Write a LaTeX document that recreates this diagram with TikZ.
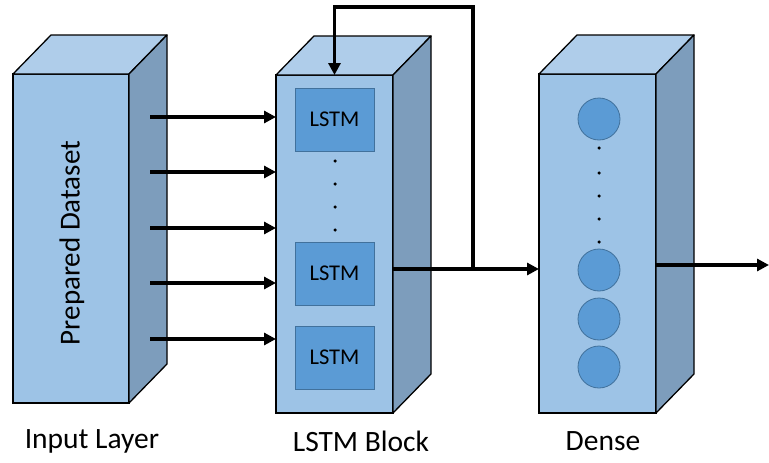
\documentclass[tikz,border=0pt]{standalone}
\usepackage{fontspec}
\setmainfont{Carlito}
\usetikzlibrary{arrows.meta,calc}
\definecolor{frontc}{HTML}{9DC3E6}
\definecolor{topc}{HTML}{AFCDEA}
\definecolor{sidec}{HTML}{7D9DBC}
\definecolor{innerc}{HTML}{5B9BD5}
\definecolor{innerb}{HTML}{41719C}
\tikzset{
  front/.style={draw=black, fill=frontc, line width=1.3pt, inner sep=0, outer sep=0},
  topface/.style={draw=black, fill=topc, line width=1.3pt, line join=round},
  sideface/.style={draw=black, fill=sidec, line width=1.3pt, line join=round},
  cell/.style={draw=innerb, fill=innerc, line width=0.8pt, minimum width=79pt, minimum height=63pt, inner sep=0, font=\fontsize{22.5}{24}\selectfont},
  neuron/.style={circle, draw=innerb, fill=innerc, line width=0.8pt, minimum size=42pt, inner sep=0},
  dotc/.style={circle, fill=black, minimum size=3.5pt, inner sep=0},
  arr/.style={line width=3.6pt, -{Triangle[length=12pt,width=12pt]}},
  lbl/.style={font=\fontsize{29.5}{32}\selectfont},
}
\newcommand{\mycuboid}[1]{%
  \draw[topface] (#1.north west) -- ++(38,-39) -- ($(#1.north east)+(38,-39)$) -- (#1.north east) -- cycle;
  \draw[sideface] (#1.north east) -- ++(38,-39) -- ($(#1.south east)+(38,-39)$) -- (#1.south east) -- cycle;
}
\begin{document}
\begin{tikzpicture}[x=1pt,y=-1pt]
\useasboundingbox (0,0) rectangle (769,463);
% Input layer
\node[front, minimum width=116pt, minimum height=329pt] (inp) at (71,238.5) {};
\mycuboid{inp}
\node[rotate=90, font=\fontsize{29}{31}\selectfont] (pd) at (72,243) {Prepared Dataset};
% LSTM block
\node[front, minimum width=117pt, minimum height=338pt] (lstm) at (334.5,244) {};
\mycuboid{lstm}
\node[cell] (l1) at (334.5,119.5) {LSTM};
\node[cell] (l2) at (334.5,273.5) {LSTM};
\node[cell] (l3) at (334.5,357.5) {LSTM};
\foreach \y [count=\i] in {161,184,207,230} \node[dotc] (ld\i) at (335,\y) {};
% Dense
\node[front, minimum width=117pt, minimum height=339pt] (dense) at (597.5,243.5) {};
\mycuboid{dense}
\node[neuron] (n1) at (599,119) {};
\node[neuron] (n2) at (599,270) {};
\node[neuron] (n3) at (599,319) {};
\node[neuron] (n4) at (599,367) {};
\foreach \y [count=\i] in {148,173,196,219,242} \node[dotc] (dd\i) at (599,\y) {};
% Input arrows
\foreach \y [count=\i] in {117,172,228,283,339} {
  \coordinate (a\i) at (150,\y);
  \draw[arr] (a\i) -- (a\i -| lstm.west);
}
% LSTM output and feedback
\coordinate (o1) at (393,269);
\coordinate (j) at (473,269);
\draw[arr] (o1) -- (o1 -| dense.west);
\draw[arr] (j) -- (j |- 0,7) -| (lstm.north);
% Dense output
\coordinate (o2) at (655,265);
\coordinate (out) at (769,265);
\draw[arr] (o2) -- (out);
% Labels
\node[lbl] (t1) at (92,441) {Input Layer};
\node[lbl] (t2) at (361,441) {LSTM Block};
\node[lbl] (t3) at (603,441) {Dense};
\end{tikzpicture}
\end{document}
